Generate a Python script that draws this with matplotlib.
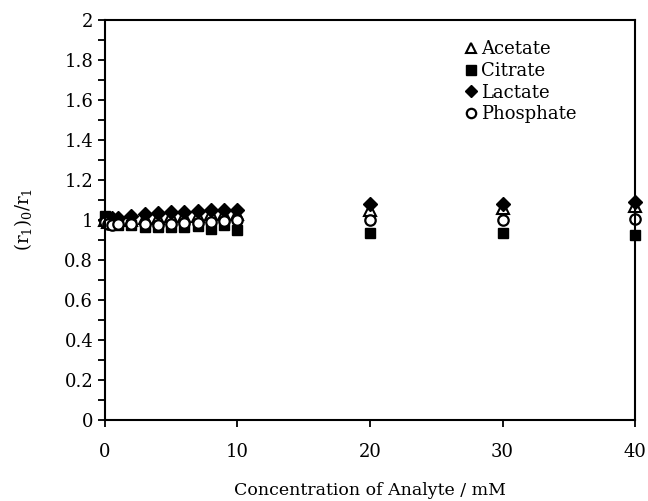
import matplotlib
matplotlib.use("Agg")
import matplotlib.pyplot as plt
from matplotlib.ticker import MultipleLocator

# --- Data ---
conc = [0, 0.25, 0.5, 1, 2, 3, 4, 5, 6, 7, 8, 9, 10, 20, 30, 40]
acetate = [1.00, 0.99, 1.00, 1.00, 1.00, 1.01, 1.01, 1.02, 1.02, 1.02, 1.03, 1.03, 1.03, 1.05, 1.06, 1.07]
citrate = [1.02, 1.00, 0.98, 0.975, 0.975, 0.965, 0.965, 0.965, 0.965, 0.97, 0.955, 0.975, 0.95, 0.935, 0.935, 0.925]
lactate = [1.00, 1.00, 1.01, 1.01, 1.02, 1.03, 1.035, 1.04, 1.04, 1.045, 1.05, 1.05, 1.05, 1.08, 1.08, 1.09]
phosphate = [0.99, 0.98, 0.975, 0.98, 0.98, 0.98, 0.975, 0.98, 0.985, 0.985, 0.99, 0.995, 1.00, 1.00, 1.00, 1.005]

plt.rcParams['font.family'] = ['DejaVu Serif']
plt.rcParams['mathtext.fontset'] = 'dejavuserif'

fig = plt.figure(figsize=(6.48, 5.01), dpi=100)
ax = fig.add_axes([0.162, 0.162, 0.818, 0.798])

ax.plot(conc, acetate, linestyle='none', marker='^', ms=8, mfc='white', mec='black', mew=1.5,
        label='Acetate', clip_on=False)
ax.plot(conc, citrate, linestyle='none', marker='s', ms=7.5, mfc='black', mec='black',
        label='Citrate', clip_on=False)
ax.plot(conc, lactate, linestyle='none', marker='D', ms=7, mfc='black', mec='black',
        label='Lactate', clip_on=False)
ax.plot(conc, phosphate, linestyle='none', marker='o', ms=7.5, mfc='white', mec='black', mew=1.6,
        label='Phosphate', clip_on=False)

ax.set_xlim(0, 40)
ax.set_ylim(0, 2)
ax.xaxis.set_major_locator(MultipleLocator(10))
ax.yaxis.set_minor_locator(MultipleLocator(0.1))
ax.set_yticks([0, 0.2, 0.4, 0.6, 0.8, 1, 1.2, 1.4, 1.6, 1.8, 2])
ax.set_yticklabels(['0', '0.2', '0.4', '0.6', '0.8', '1', '1.2', '1.4', '1.6', '1.8', '2'])

for s in ax.spines.values():
    s.set_linewidth(1.5)
ax.tick_params(axis='both', which='major', direction='out', length=5, width=1.3, labelsize=13)
ax.tick_params(axis='y', which='minor', direction='out', length=5, width=1.3)
ax.tick_params(axis='x', which='major', pad=12)

ax.set_xlabel('Concentration of Analyte / mM', fontsize=12.5, labelpad=15)
ax.set_ylabel(r'$(\mathrm{r}_1)_0/\mathrm{r}_1$', fontsize=13, labelpad=22)

leg = ax.legend(loc='upper right', frameon=False, fontsize=13, handletextpad=0.1,
                handlelength=0.9, labelspacing=0.2, bbox_to_anchor=(0.92, 0.99),
                markerscale=0.9)

fig.savefig('out.png', dpi=100)
